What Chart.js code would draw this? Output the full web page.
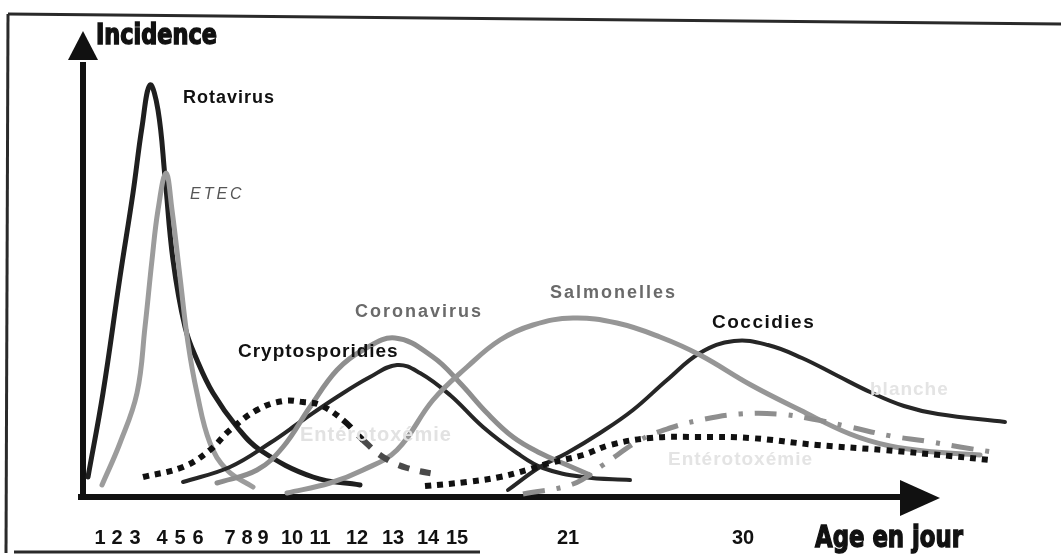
<!DOCTYPE html>
<html lang="fr">
<head>
<meta charset="utf-8">
<title>Incidence selon l'âge</title>
<script src="https://cdn.jsdelivr.net/npm/chart.js@4.4.1/dist/chart.umd.min.js"></script>
<style>
  html, body { margin: 0; padding: 0; background: #fff; }
  #chart { display: block; }
</style>
</head>
<body>
<canvas id="chart" width="1061" height="557"></canvas>
<script>
// x = position along the age axis (the axis is not drawn to scale), y = relative incidence
const tickPos = [1.7, 3.4, 5.2, 7.9, 9.7, 11.5, 14.7, 16.4, 18.0, 20.9, 23.7, 27.4, 31.0, 34.5, 37.4, 48.5, 66.0];
const tickLabels = ['1', '2', '3', '4', '5', '6', '7', '8', '9', '10', '11', '12', '13', '14', '15', '21', '30'];

// --- curves as [x, y] ---
const rotavirus = [[0.5, 2.0], [2.0, 10.4], [3.7, 22.0], [5.0, 30.4], [5.9, 37.0], [6.7, 41.2], [7.5, 38.7],
    [8.2, 32.0], [9.0, 23.7], [10.2, 17.0], [11.4, 13.7], [13.0, 10.4], [15.4, 7.0], [17.7, 4.7], [23.0, 2.0], [27.7, 1.2]];
const etec = [[1.9, 1.2], [3.7, 5.4], [5.4, 10.4], [6.2, 17.0], [6.9, 23.7], [7.5, 28.7], [8.3, 32.4], [8.9, 28.7],
    [9.7, 22.0], [10.5, 15.4], [11.4, 10.4], [12.7, 5.4], [14.4, 2.7], [17.0, 1.0]];
const cryptosporidies = [[10.0, 1.5], [14.7, 3.0], [18.7, 5.4], [22.0, 7.7], [25.4, 10.0], [28.7, 12.0], [31.4, 13.2],
    [33.7, 12.4], [36.7, 10.2], [40.0, 7.0], [43.4, 4.4], [46.0, 2.9], [50.0, 2.0], [54.7, 1.7]];
const coronavirus = [[13.4, 1.4], [17.4, 2.7], [20.0, 5.0], [22.7, 9.0], [25.4, 12.7], [28.0, 14.7], [31.2, 15.9],
    [35.0, 14.0], [37.7, 11.4], [40.4, 8.4], [43.0, 6.0], [45.7, 4.4], [48.4, 3.2], [50.7, 2.2]];
const salmonelles = [[20.4, 0.4], [24.7, 1.4], [28.0, 2.7], [31.4, 4.7], [35.0, 9.7], [38.4, 13.0], [41.7, 15.7],
    [45.0, 17.2], [49.0, 17.9], [53.4, 17.4], [57.7, 16.0], [61.7, 14.2], [66.8, 11.2], [71.7, 8.7], [76.7, 6.3],
    [80.7, 5.1], [85.2, 4.5], [89.7, 4.2]];
const coccidies = [[42.5, 0.7], [45.7, 3.0], [48.4, 4.4], [51.7, 6.4], [55.0, 8.7], [58.4, 11.7], [61.7, 14.4],
    [65.1, 15.6], [68.5, 15.2], [71.9, 13.9], [75.3, 12.2], [78.7, 10.5], [82.1, 9.1], [85.5, 8.3], [92.2, 7.5]];
const enterotoxemie1 = [[6.0, 2.0], [10.0, 3.0], [12.7, 4.7], [14.7, 6.7], [17.4, 8.7], [20.0, 9.6], [22.0, 9.5],
    [23.7, 9.2], [26.0, 7.7], [28.0, 5.7], [30.0, 4.0], [32.4, 2.9], [35.7, 2.2]];
const enterotoxemie2 = [[34.2, 1.1], [38.4, 1.5], [41.7, 2.0], [44.4, 2.7], [46.7, 3.4], [50.0, 4.2], [52.7, 5.2],
    [56.7, 5.9], [61.7, 6.0], [66.7, 5.9], [73.4, 5.2], [80.0, 4.7], [86.7, 4.1], [90.7, 3.7]];
const diarrheeBlanche = [[44.0, 0.3], [49.0, 1.3], [52.0, 3.2], [55.7, 5.7], [58.7, 6.9], [62.2, 7.8], [65.7, 8.3],
    [69.5, 8.3], [72.9, 7.8], [76.7, 7.0], [80.8, 6.1], [84.2, 5.6], [87.7, 5.0], [91.6, 4.4]];

const DARK = '#1f1f1f';
const GREY = '#8e8e8e';

function curve(label, pts, color, width, extra) {
    return Object.assign({
        label: label,
        data: pts.map(p => ({ x: p[0], y: p[1] })),
        borderColor: color,
        borderWidth: width,
        borderCapStyle: 'round',
        borderJoinStyle: 'round',
        tension: 0.4,
        pointRadius: 0,
        fill: false
    }, extra || {});
}

// curve names and faded captions, anchored in axis units
const captions = [
    { text: 'Rotavirus', x: 10.0, y: 39.9, font: 'bold 18px Arial, "Liberation Sans", sans-serif', color: '#111', spacing: 1 },
    { text: 'ETEC', x: 10.7, y: 30.2, font: 'italic 16px Arial, "Liberation Sans", sans-serif', color: '#555', spacing: 3 },
    { text: 'Coronavirus', x: 27.2, y: 18.5, font: 'bold 18px Arial, "Liberation Sans", sans-serif', color: '#6a6a6a', spacing: 2 },
    { text: 'Cryptosporidies', x: 15.5, y: 14.5, font: 'bold 19px Arial, "Liberation Sans", sans-serif', color: '#111', spacing: 1 },
    { text: 'Salmonelles', x: 46.7, y: 20.4, font: 'bold 18px Arial, "Liberation Sans", sans-serif', color: '#6a6a6a', spacing: 2 },
    { text: 'Coccidies', x: 62.9, y: 17.4, font: 'bold 19px Arial, "Liberation Sans", sans-serif', color: '#111', spacing: 1.5 },
    { text: 'Entérotoxémie', x: 21.7, y: 6.2, font: 'bold 20px Arial, "Liberation Sans", sans-serif', color: '#e2e2e2', spacing: 1 },
    { text: 'Entérotoxémie', x: 58.5, y: 3.7, font: 'bold 19px Arial, "Liberation Sans", sans-serif', color: '#e4e4e4', spacing: 1 },
    { text: 'blanche', x: 78.7, y: 10.7, font: 'bold 19px Arial, "Liberation Sans", sans-serif', color: '#e4e4e4', spacing: 1 }
];

const HEAVY = '"Liberation Sans Narrow", "DejaVu Sans Condensed", Arial, sans-serif';

const decor = {
    id: 'decor',
    beforeDraw(chart) {
        const c = chart.ctx;
        c.save();
        c.fillStyle = '#fff';
        c.fillRect(0, 0, chart.width, chart.height);
        // the scanned page frame
        c.strokeStyle = '#2a2a2a';
        c.lineWidth = 3;
        c.beginPath(); c.moveTo(8, 14); c.lineTo(chart.width, 24); c.stroke();
        c.beginPath(); c.moveTo(8, 14); c.lineTo(6, 553); c.stroke();
        c.beginPath(); c.moveTo(14, 552); c.lineTo(480, 552); c.stroke();
        c.restore();
    },
    beforeDatasetsDraw(chart) {
        const c = chart.ctx;
        const xs = chart.scales.x, ys = chart.scales.y;
        const x0 = xs.getPixelForValue(0), y0 = ys.getPixelForValue(0);
        c.save();
        c.fillStyle = '#111';
        c.strokeStyle = '#111';
        c.lineWidth = 6;
        c.lineCap = 'butt';
        // y axis with arrow
        const yBase = ys.getPixelForValue(43.7), yTip = ys.getPixelForValue(46.6);
        c.beginPath(); c.moveTo(x0, y0 + 3); c.lineTo(x0, yBase + 2); c.stroke();
        c.beginPath(); c.moveTo(x0 - 15, yBase); c.lineTo(x0, yTip); c.lineTo(x0 + 15, yBase); c.closePath(); c.fill();
        // x axis with arrow
        const xBase = xs.getPixelForValue(81.7), xTip = xs.getPixelForValue(85.7);
        c.beginPath(); c.moveTo(x0 - 5, y0); c.lineTo(xBase + 2, y0); c.stroke();
        c.beginPath(); c.moveTo(xBase, y0 - 17); c.lineTo(xTip, y0 + 1); c.lineTo(xBase, y0 + 19); c.closePath(); c.fill();
        c.restore();
    },
    afterDatasetsDraw(chart) {
        const c = chart.ctx;
        const xs = chart.scales.x, ys = chart.scales.y;
        c.save();
        c.textBaseline = 'middle';
        c.textAlign = 'left';
        captions.forEach(t => {
            c.font = t.font;
            c.fillStyle = t.color;
            c.letterSpacing = t.spacing + 'px';
            c.fillText(t.text, xs.getPixelForValue(t.x), ys.getPixelForValue(t.y));
        });
        c.letterSpacing = '0px';
        // axis titles, heavy condensed lettering
        c.textBaseline = 'alphabetic';
        c.fillStyle = '#111';
        c.strokeStyle = '#111';
        c.lineWidth = 1.4;
        c.font = 'bold 28px ' + HEAVY;
        c.fillText('Incidence', xs.getPixelForValue(1.3), 44, 121);
        c.strokeText('Incidence', xs.getPixelForValue(1.3), 44, 121);
        c.font = 'bold 31px ' + HEAVY;
        c.fillText('Age en jour', 815, 547, 148);
        c.strokeText('Age en jour', 815, 547, 148);
        c.restore();
    }
};

new Chart(document.getElementById('chart'), {
    type: 'line',
    data: {
        datasets: [
            curve('Entérotoxémie', enterotoxemie1, '#111', 6, {
                borderDash: [6, 6], borderCapStyle: 'butt', borderJoinStyle: 'miter',
                segment: {
                    borderDash: ctx => ctx.p0.parsed.x >= 24 ? [11, 11] : undefined,
                    borderColor: ctx => ctx.p0.parsed.x >= 28 ? '#4a4a4a' : undefined
                }
            }),
            curve('Entérotoxémie (2)', enterotoxemie2, '#111', 6, { borderDash: [6, 6], borderCapStyle: 'butt', borderJoinStyle: 'miter' }),
            curve('Diarrhée blanche', diarrheeBlanche, GREY, 5, { borderDash: [22, 12, 4, 12], borderCapStyle: 'butt', borderJoinStyle: 'miter' }),
            curve('Salmonelles', salmonelles, '#969696', 5),
            curve('Coronavirus', coronavirus, GREY, 5),
            curve('Cryptosporidies', cryptosporidies, '#262626', 4),
            curve('Coccidies', coccidies, '#262626', 4),
            curve('ETEC', etec, '#9c9c9c', 5),
            curve('Rotavirus', rotavirus, DARK, 5)
        ]
    },
    options: {
        responsive: false,
        animation: false,
        events: [],
        layout: { padding: { left: 83, right: 48, top: 27, bottom: 0 } },
        plugins: { legend: { display: false }, tooltip: { enabled: false } },
        scales: {
            x: {
                type: 'linear',
                min: 0,
                max: 93,
                grid: { display: false, drawTicks: false },
                border: { display: false },
                afterBuildTicks: s => { s.ticks = tickPos.map(v => ({ value: v })); },
                afterFit: s => { s.height = 60; },
                ticks: {
                    autoSkip: false,
                    maxRotation: 0,
                    padding: 29,
                    color: '#111',
                    font: { family: 'Arial, "Liberation Sans", sans-serif', size: 20, weight: 'bold' },
                    callback: (v, i) => tickLabels[i]
                }
            },
            y: { type: 'linear', min: 0, max: 47, display: false }
        }
    },
    plugins: [decor]
});
</script>
</body>
</html>
